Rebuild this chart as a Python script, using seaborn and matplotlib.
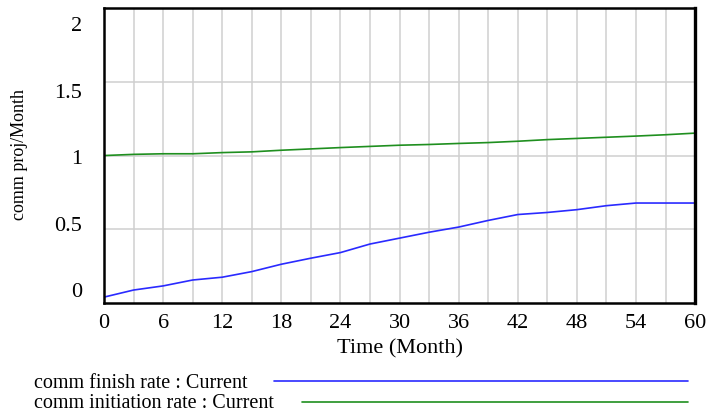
import numpy as np
import pandas as pd
import seaborn as sns
import matplotlib
matplotlib.use("Agg")
import matplotlib.pyplot as plt
from matplotlib.lines import Line2D
from matplotlib.transforms import ScaledTranslation

# Simulation output, sampled every 3 months
months = [0, 3, 6, 9, 12, 15, 18, 21, 24, 27, 30, 33, 36, 39, 42, 45, 48, 51, 54, 57, 60]
finish_rate = [0.04, 0.088, 0.116, 0.156, 0.175, 0.213, 0.263, 0.304, 0.342, 0.40,
               0.44, 0.48, 0.515, 0.56, 0.60, 0.614, 0.633, 0.66, 0.678, 0.678, 0.678]
initiation_rate = [1.0, 1.008, 1.012, 1.012, 1.02, 1.025, 1.036, 1.045, 1.054, 1.062,
                   1.07, 1.075, 1.082, 1.088, 1.097, 1.108, 1.116, 1.124, 1.132, 1.141, 1.152]

series_names = ["comm finish rate : Current", "comm initiation rate : Current"]
series_colors = ["#2a2aff", "#1f8f1f"]

x_ticks = [0, 6, 12, 18, 24, 30, 36, 42, 48, 54, 60]
y_ticks = [0, 0.5, 1, 1.5, 2]
y_tick_labels = ["0", "0.5", "1", "1.5", "2"]

df = pd.DataFrame({
    "Month": months * 2,
    "value": finish_rate + initiation_rate,
    "series": [series_names[0]] * len(months) + [series_names[1]] * len(months),
})

sns.set_theme(style="white")
plt.rcParams["font.family"] = ["Liberation Serif", "DejaVu Serif"]

fig = plt.figure(figsize=(7.10, 4.16), dpi=100)
ax = fig.add_axes([0.1465, 0.2716, 0.8325, 0.7090])

sns.lineplot(data=df, x="Month", y="value", hue="series", palette=series_colors,
             hue_order=series_names, linewidth=1.2, legend=False, ax=ax)

ax.set_xlim(0, 60)
ax.set_ylim(0, 2)

# grid every 3 months, every 0.5 on y
for xv in np.arange(3, 60, 3):
    ax.axvline(xv, color="#cfcfcf", linewidth=1.1, zorder=0)
for yv in [0.5, 1.0, 1.5]:
    ax.axhline(yv, color="#cfcfcf", linewidth=1.1, zorder=0)

ax.set_xticks(x_ticks)
ax.set_xticklabels([str(t) for t in x_ticks])
ax.set_yticks(y_ticks)
ax.set_yticklabels(y_tick_labels)
ax.tick_params(axis="both", length=0, labelsize=16, colors="black")
ax.tick_params(axis="x", pad=8)
ax.tick_params(axis="y", pad=16)

# labels sit on an evenly compressed scale along the y axis
for lab, v in zip(ax.get_yticklabels(), y_ticks):
    dy_px = 13 - 14.5 * v
    lab.set_transform(lab.get_transform() + ScaledTranslation(0, dy_px / 100, fig.dpi_scale_trans))

ax.set_xlabel("Time (Month)", fontsize=16, color="black")
ax.xaxis.set_label_coords(0.50, -0.122)
ax.set_ylabel("comm proj/Month", fontsize=13, color="black")
ax.yaxis.set_label_coords(-0.128, 0.505)

for side in ["left", "bottom", "top", "right"]:
    ax.spines[side].set_visible(True)
    ax.spines[side].set_color("black")
    ax.spines[side].set_linewidth(1.8)
ax.spines["right"].set_linewidth(2.4)

# legend rows below the chart
legend_rows = [
    (series_names[0], series_colors[0], 1 - 383 / 416, 274 / 710),
    (series_names[1], series_colors[1], 1 - 404 / 416, 302 / 710),
]
for name, color, yf, x0 in legend_rows:
    fig.text(34 / 710, yf, name, fontsize=14.5, va="center", ha="left", color="black")
    fig.add_artist(Line2D([x0, 688 / 710], [yf + 0.005, yf + 0.005], color=color,
                          linewidth=1.2, transform=fig.transFigure))

fig.savefig("out.png", dpi=100)
